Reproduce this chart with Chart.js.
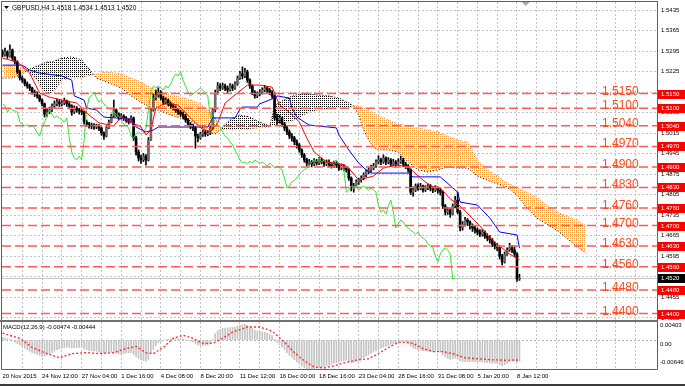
<!DOCTYPE html>
<html>
<head>
<meta charset="utf-8">
<title>GBPUSD H4</title>
<script src="https://cdn.jsdelivr.net/npm/chart.js@4.4.1/dist/chart.umd.min.js"></script>
<style>
  html, body { margin: 0; padding: 0; background: #fff; }
  #wrap { position: relative; width: 685px; height: 386px; overflow: hidden; background: #fff; }
  canvas { position: absolute; left: 0; }
  #main { top: 0; }
  #macd { top: 320px; }
  #tabs { position: absolute; left: 0; top: 384px; width: 685px; height: 2px; background: #3a3a3a; }
</style>
</head>
<body>
<div id="wrap">
  <canvas id="main" width="685" height="320"></canvas>
  <canvas id="macd" width="685" height="66"></canvas>
  <div id="tabs"></div>
</div>
<script>
// ---- data ----
const symbol = 'GBPUSD,H4';
const firstOpen = 1.5292;

const closes = [
  1.5282,1.5292,1.5278,1.5299,1.5271,1.5258,1.5224,1.5203,1.5196,1.5183,
  1.5176,1.5169,1.5155,1.5149,1.5142,1.5128,1.5115,1.5080,1.5087,1.5094,
  1.5108,1.5115,1.5121,1.5115,1.5118,1.5125,1.5115,1.5108,1.5087,1.5101,
  1.5094,1.5091,1.5087,1.5053,1.5046,1.5040,1.5043,1.5036,1.5040,1.5033,
  1.5016,1.5005,1.5033,1.5053,1.5074,1.5094,1.5080,1.5067,1.5074,1.5067,
  1.5060,1.5053,1.5067,1.4999,1.4951,1.4930,1.4924,1.4937,1.4924,1.4992,
  1.5094,1.5135,1.5145,1.5155,1.5135,1.5121,1.5128,1.5115,1.5108,1.5101,
  1.5094,1.5087,1.5080,1.5074,1.5060,1.5046,1.5040,1.5033,1.5005,1.4999,
  1.5012,1.5019,1.5012,1.5016,1.5033,1.5094,1.5155,1.5176,1.5169,1.5176,
  1.5169,1.5162,1.5176,1.5169,1.5183,1.5203,1.5217,1.5210,1.5224,1.5196,
  1.5176,1.5155,1.5142,1.5149,1.5155,1.5162,1.5169,1.5162,1.5155,1.5142,
  1.5067,1.5060,1.5067,1.5046,1.5033,1.5019,1.5005,1.4999,1.4985,1.4975,
  1.4958,1.4941,1.4924,1.4913,1.4917,1.4910,1.4920,1.4913,1.4924,1.4917,
  1.4910,1.4917,1.4910,1.4903,1.4913,1.4907,1.4896,1.4903,1.4896,1.4890,
  1.4862,1.4828,1.4835,1.4849,1.4855,1.4862,1.4873,1.4883,1.4890,1.4896,
  1.4903,1.4917,1.4924,1.4917,1.4930,1.4917,1.4924,1.4910,1.4917,1.4910,
  1.4917,1.4924,1.4910,1.4903,1.4890,1.4814,1.4821,1.4835,1.4828,1.4835,
  1.4821,1.4828,1.4835,1.4828,1.4821,1.4828,1.4821,1.4814,1.4767,1.4746,
  1.4753,1.4739,1.4767,1.4787,1.4746,1.4692,1.4705,1.4719,1.4712,1.4699,
  1.4692,1.4685,1.4678,1.4671,1.4678,1.4664,1.4658,1.4651,1.4637,1.4630,
  1.4624,1.4596,1.4576,1.4603,1.4617,1.4624,1.4617,1.4603,1.4518,1.4520
];
const highs = [
  1.5299,1.5305,1.5296,1.5316,1.5302,1.5276,1.5262,1.5230,1.5210,1.5200,
  1.5190,1.5182,1.5172,1.5162,1.5156,1.5146,1.5132,1.5118,1.5098,1.5104,
  1.5115,1.5125,1.5132,1.5128,1.5126,1.5135,1.5128,1.5120,1.5112,1.5108,
  1.5106,1.5100,1.5098,1.5090,1.5060,1.5052,1.5050,1.5048,1.5046,1.5044,
  1.5036,1.5020,1.5038,1.5060,1.5080,1.5128,1.5098,1.5084,1.5082,1.5078,
  1.5072,1.5064,1.5074,1.5070,1.5004,1.4958,1.4940,1.4946,1.4942,1.5000,
  1.5100,1.5150,1.5162,1.5170,1.5160,1.5142,1.5136,1.5132,1.5122,1.5115,
  1.5108,1.5100,1.5094,1.5088,1.5080,1.5066,1.5052,1.5046,1.5038,1.5012,
  1.5018,1.5026,1.5024,1.5022,1.5040,1.5100,1.5162,1.5188,1.5184,1.5186,
  1.5182,1.5176,1.5184,1.5182,1.5190,1.5210,1.5226,1.5241,1.5236,1.5230,
  1.5200,1.5180,1.5160,1.5156,1.5164,1.5170,1.5178,1.5174,1.5168,1.5160,
  1.5146,1.5080,1.5076,1.5070,1.5052,1.5040,1.5026,1.5014,1.5004,1.4992,
  1.4980,1.4962,1.4946,1.4930,1.4926,1.4922,1.4928,1.4926,1.4932,1.4930,
  1.4922,1.4924,1.4924,1.4916,1.4920,1.4918,1.4912,1.4910,1.4908,1.4902,
  1.4894,1.4866,1.4844,1.4856,1.4862,1.4870,1.4880,1.4890,1.4898,1.4906,
  1.4912,1.4924,1.4938,1.4930,1.4941,1.4934,1.4932,1.4928,1.4926,1.4922,
  1.4928,1.4937,1.4930,1.4916,1.4908,1.4894,1.4832,1.4842,1.4842,1.4844,
  1.4838,1.4836,1.4842,1.4840,1.4834,1.4836,1.4832,1.4828,1.4818,1.4772,
  1.4762,1.4758,1.4774,1.4800,1.4814,1.4752,1.4714,1.4728,1.4724,1.4716,
  1.4706,1.4698,1.4692,1.4686,1.4686,1.4682,1.4672,1.4666,1.4656,1.4644,
  1.4638,1.4628,1.4602,1.4610,1.4624,1.4640,1.4632,1.4628,1.4608,1.4534
];
const lows = [
  1.5275,1.5278,1.5270,1.5274,1.5262,1.5250,1.5218,1.5196,1.5188,1.5176,
  1.5168,1.5160,1.5148,1.5140,1.5134,1.5122,1.5108,1.5070,1.5072,1.5082,
  1.5088,1.5102,1.5108,1.5106,1.5108,1.5112,1.5106,1.5098,1.5076,1.5082,
  1.5086,1.5080,1.5078,1.5046,1.5038,1.5032,1.5030,1.5028,1.5030,1.5024,
  1.5008,1.4994,1.5002,1.5030,1.5050,1.5070,1.5072,1.5060,1.5062,1.5058,
  1.5052,1.5046,1.5050,1.4990,1.4940,1.4920,1.4912,1.4918,1.4906,1.4920,
  1.4990,1.5090,1.5128,1.5138,1.5128,1.5112,1.5114,1.5108,1.5100,1.5094,
  1.5086,1.5078,1.5072,1.5064,1.5052,1.5040,1.5030,1.5024,1.4964,1.4985,
  1.4994,1.5004,1.5004,1.5006,1.5010,1.5028,1.5088,1.5148,1.5160,1.5164,
  1.5160,1.5154,1.5158,1.5160,1.5164,1.5178,1.5198,1.5200,1.5204,1.5188,
  1.5168,1.5146,1.5134,1.5136,1.5142,1.5148,1.5156,1.5154,1.5146,1.5134,
  1.5060,1.5046,1.5050,1.5038,1.5024,1.5010,1.4996,1.4988,1.4976,1.4964,
  1.4950,1.4932,1.4916,1.4904,1.4906,1.4900,1.4904,1.4906,1.4908,1.4910,
  1.4902,1.4904,1.4900,1.4896,1.4898,1.4898,1.4888,1.4890,1.4886,1.4882,
  1.4854,1.4818,1.4814,1.4830,1.4840,1.4848,1.4856,1.4866,1.4876,1.4882,
  1.4890,1.4898,1.4910,1.4908,1.4912,1.4908,1.4910,1.4902,1.4904,1.4900,
  1.4906,1.4912,1.4902,1.4894,1.4882,1.4806,1.4800,1.4816,1.4820,1.4822,
  1.4814,1.4816,1.4822,1.4818,1.4812,1.4816,1.4810,1.4804,1.4758,1.4736,
  1.4738,1.4728,1.4736,1.4760,1.4740,1.4682,1.4684,1.4698,1.4700,1.4688,
  1.4680,1.4674,1.4668,1.4662,1.4664,1.4656,1.4648,1.4640,1.4628,1.4620,
  1.4614,1.4586,1.4566,1.4572,1.4598,1.4612,1.4608,1.4594,1.4510,1.4513
];

// one date label every 16 bars
const dateLabels = ['20 Nov 2015','24 Nov 12:00','27 Nov 04:00','1 Dec 16:00','4 Dec 08:00',
  '8 Dec 20:00','11 Dec 12:00','16 Dec 00:00','18 Dec 16:00','23 Dec 04:00',
  '28 Dec 16:00','31 Dec 08:00','5 Jan 20:00','8 Jan 12:00'];
const priceTicks = [1.5435,1.5365,1.5295,1.5225,1.5155,1.5085,1.5015,1.4945,
  1.4875,1.4805,1.4735,1.4665,1.4595,1.4525,1.4455,1.4385];
const levels = [1.5150,1.5100,1.5040,1.4970,1.4900,1.4830,1.4760,1.4700,1.4630,1.4560,1.4480,1.4400];

// Ichimoku lines (bar index, price)
const tenkanBars = [0,6,11,15,19,24,30,34,39,45,48,52,56,58,60,62,66,71,76,80,84,87,90,95,99,
  104,109,112,116,120,123,126,131,138,140,144,150,154,159,164,169,173,177,181,185,189,193,197,201,205,209];
const tenkan = [1.5271,1.5258,1.5220,1.5152,1.5138,1.5128,1.5118,1.5084,1.5050,1.5040,
  1.5070,1.5053,1.5036,1.5009,1.5026,1.5101,1.5118,1.5111,1.5067,1.5033,
  1.5019,1.5050,1.5118,1.5152,1.5179,1.5179,1.5172,1.5111,1.5087,1.5053,
  1.4999,1.4951,1.4917,1.4907,1.4896,1.4855,1.4869,1.4896,1.4907,1.4900,
  1.4862,1.4835,1.4828,1.4791,1.4767,1.4733,1.4699,1.4658,1.4630,1.4603,1.4583];
const kijunBars = [0,8,11,15,24,28,29,33,34,38,41,52,54,58,61,63,83,85,94,96,97,103,104,110,111,
  116,117,119,122,124,135,136,140,144,147,149,164,166,177,184,185,192,197,201,208,209];
const kijun = [1.5247,1.5247,1.5230,1.5220,1.5210,1.5196,1.5142,1.5128,1.5101,1.5094,
  1.5070,1.5063,1.5036,1.5019,1.5026,1.5036,1.5036,1.5067,1.5067,1.5097,
  1.5104,1.5104,1.5115,1.5135,1.5142,1.5135,1.5101,1.5070,1.5053,1.5043,
  1.5033,1.5009,1.4958,1.4913,1.4890,1.4879,1.4879,1.4866,1.4866,1.4814,
  1.4780,1.4770,1.4726,1.4678,1.4668,1.4624];
const spanBars = [0,4,8,10,14,16,18,20,22,24,28,32,34,36,38,42,48,52,56,60,64,68,72,76,80,
  84,86,88,90,92,94,96,100,104,108,110,112,116,120,124,128,132,136,140,142,144,146,148,150,152,
  156,160,164,168,172,176,180,184,188,192,196,200,204,208,212,216,220,224,228,232,236];
const spanA = [1.5203,1.5203,1.5217,1.5230,1.5244,1.5251,1.5258,1.5258,1.5265,1.5271,
  1.5275,1.5265,1.5244,1.5224,1.5203,1.5190,1.5169,1.5142,1.5121,1.5101,
  1.5091,1.5077,1.5067,1.5057,1.5040,1.5016,1.5012,1.5026,1.5046,1.5060,
  1.5070,1.5077,1.5070,1.5053,1.5040,1.5108,1.5121,1.5138,1.5149,1.5149,
  1.5145,1.5142,1.5135,1.5118,1.5108,1.5077,1.5026,1.4992,1.4968,1.4958,
  1.4958,1.4951,1.4917,1.4890,1.4883,1.4890,1.4900,1.4896,1.4896,1.4869,
  1.4855,1.4842,1.4831,1.4804,1.4760,1.4726,1.4705,1.4685,1.4658,1.4630,1.4606];
const spanB = [1.5244,1.5244,1.5237,1.5230,1.5196,1.5162,1.5152,1.5152,1.5169,1.5196,
  1.5203,1.5203,1.5210,1.5213,1.5217,1.5224,1.5217,1.5203,1.5190,1.5169,
  1.5159,1.5145,1.5138,1.5128,1.5115,1.5087,1.5053,1.5033,1.5026,1.5026,
  1.5026,1.5029,1.5029,1.5033,1.5036,1.5040,1.5046,1.5053,1.5067,1.5087,
  1.5094,1.5097,1.5101,1.5101,1.5108,1.5108,1.5101,1.5094,1.5084,1.5074,
  1.5060,1.5046,1.5040,1.5033,1.5026,1.5019,1.5005,1.4992,1.4985,1.4924,
  1.4890,1.4869,1.4845,1.4831,1.4814,1.4797,1.4770,1.4746,1.4733,1.4719,1.4699];
const chikouShift = 26;

// MACD(12,26,9)
const macdHist = [
  0.0006,0.0005,0.0003,0.0001,-0.0002,-0.0005,-0.0008,-0.0011,-0.0014,-0.0018,
  -0.0022,-0.0025,-0.0028,-0.0030,-0.0032,-0.0034,-0.0036,-0.0036,-0.0034,-0.0031,
  -0.0028,-0.0025,-0.0022,-0.0020,-0.0018,-0.0017,-0.0016,-0.0016,-0.0018,-0.0017,
  -0.0017,-0.0016,-0.0016,-0.0020,-0.0022,-0.0023,-0.0023,-0.0024,-0.0025,-0.0027,
  -0.0029,-0.0030,-0.0028,-0.0026,-0.0027,-0.0029,-0.0030,-0.0031,-0.0031,-0.0030,
  -0.0029,-0.0028,-0.0028,-0.0032,-0.0037,-0.0041,-0.0044,-0.0046,-0.0047,-0.0043,
  -0.0031,-0.0021,-0.0013,-0.0006,-0.0003,-0.0001,0.0001,0.0002,0.0003,0.0003,
  0.0003,0.0003,0.0003,0.0002,0.0001,-0.0001,-0.0002,-0.0004,-0.0008,-0.0011,
  -0.0012,-0.0012,-0.0012,-0.0011,-0.0008,0.0002,0.0014,0.0021,0.0024,0.0026,
  0.0027,0.0027,0.0028,0.0028,0.0029,0.0031,0.0033,0.0034,0.0035,0.0033,
  0.0030,0.0026,0.0022,0.0020,0.0019,0.0018,0.0017,0.0015,0.0013,0.0010,
  0.0002,-0.0005,-0.0010,-0.0016,-0.0022,-0.0028,-0.0034,-0.0039,-0.0044,-0.0049,
  -0.0054,-0.0058,-0.0062,-0.0064,-0.0064,-0.0065,-0.0064,-0.0063,-0.0062,-0.0061,
  -0.0060,-0.0058,-0.0056,-0.0054,-0.0052,-0.0050,-0.0049,-0.0047,-0.0046,-0.0045,
  -0.0047,-0.0050,-0.0050,-0.0047,-0.0045,-0.0042,-0.0039,-0.0036,-0.0033,-0.0030,
  -0.0027,-0.0024,-0.0021,-0.0018,-0.0016,-0.0014,-0.0012,-0.0010,-0.0008,-0.0007,
  -0.0005,-0.0003,-0.0003,-0.0004,-0.0006,-0.0014,-0.0018,-0.0020,-0.0022,-0.0023,
  -0.0024,-0.0024,-0.0025,-0.0025,-0.0026,-0.0026,-0.0026,-0.0027,-0.0033,-0.0038,
  -0.0041,-0.0043,-0.0042,-0.0040,-0.0041,-0.0046,-0.0048,-0.0048,-0.0048,-0.0048,
  -0.0048,-0.0048,-0.0049,-0.0049,-0.0049,-0.0050,-0.0050,-0.0051,-0.0052,-0.0052,
  -0.0052,-0.0055,-0.0058,-0.0055,-0.0052,-0.0049,-0.0047,-0.0046,-0.0049,-0.00474
];
const signalBars = [0,7,12,18,23,28,34,39,45,50,54,58,61,65,69,73,77,81,85,89,93,99,104,108,110,
  114,118,122,126,130,134,138,144,148,152,156,160,163,166,170,174,178,182,187,192,198,203,209];
const signal = [0.00153,0.00039,-0.00166,-0.00303,-0.00395,-0.00303,-0.00281,-0.00303,-0.00281,-0.00189,
  -0.00144,-0.00281,-0.00303,-0.00166,0.00039,0.00107,0.00039,-0.00075,-0.00075,0.00039,
  0.00176,0.00290,0.00290,0.00221,0.00153,-0.00052,-0.00281,-0.00463,-0.00600,-0.00623,
  -0.00577,-0.00509,-0.00440,-0.00417,-0.00303,-0.00166,-0.00052,-0.00052,-0.00075,-0.00189,
  -0.00258,-0.00258,-0.00303,-0.00395,-0.00417,-0.00440,-0.00450,-0.00444];
const macdTop = 0.00403, macdBottom = -0.00646;

// ---- setup ----
const FONT = '"Liberation Sans", Arial, sans-serif';
Chart.defaults.font.family = FONT;
Chart.defaults.color = '#000';

const last = closes.length - 1;
const opens = closes.map((c, i) => (i === 0 ? firstOpen : closes[i - 1]));
const pts = (xs, ys) => xs.map((x, k) => ({ x: x, y: ys[k] }));
const X_MIN = -0.2, X_MAX = 264.6;
const gridBars = [];
for (let b = 8; b <= 256; b += 8) gridBars.push(b);

const mainCanvas = document.getElementById('main');
const mctx = mainCanvas.getContext('2d');

function dots(color, w, h) {
  const c = document.createElement('canvas');
  c.width = w; c.height = h;
  const g = c.getContext('2d');
  g.fillStyle = color;
  g.fillRect(0, 0, 1, 1);
  return mctx.createPattern(c, 'repeat');
}
const orangeDots = dots('#f39a3c', 2, 2);
const blackDots = dots('#000000', 2, 2);

const mainDeco = {
  id: 'mainDeco',
  beforeDatasetsDraw(chart) {
    const { ctx, chartArea: a, scales: { y } } = chart;
    const py = Math.round(y.getPixelForValue(closes[last])) + 0.5;
    ctx.save();
    ctx.strokeStyle = '#c8c8c8';
    ctx.lineWidth = 1;
    ctx.beginPath(); ctx.moveTo(a.left, py); ctx.lineTo(a.right, py); ctx.stroke();
    ctx.restore();
  },
  afterDatasetsDraw(chart) {
    const { ctx, chartArea: a, scales: { y } } = chart;
    ctx.save();
    levels.forEach(v => {
      const py = y.getPixelForValue(v);
      ctx.strokeStyle = '#ff5a5a';
      ctx.lineWidth = 1.5;
      ctx.setLineDash([9, 4]);
      ctx.beginPath(); ctx.moveTo(a.left, py); ctx.lineTo(a.right, py); ctx.stroke();
      ctx.setLineDash([]);
      ctx.font = '12px ' + FONT;
      ctx.fillStyle = '#ff4a1a';
      ctx.textAlign = 'left';
      ctx.textBaseline = 'alphabetic';
      ctx.fillText(v.toFixed(4), a.right - 55, py + 1);
    });
    ctx.restore();
  },
  afterDraw(chart) {
    const { ctx, chartArea: a, scales: { x, y } } = chart;
    ctx.save();
    // window frame
    ctx.strokeStyle = '#606060';
    ctx.lineWidth = 1;
    ctx.strokeRect(a.left - 0.5, a.top - 0.5, a.right - a.left + 1, a.bottom - a.top + 1);
    // level tags on the price scale
    ctx.font = '6px ' + FONT;
    ctx.textAlign = 'left';
    ctx.textBaseline = 'middle';
    levels.forEach(v => {
      const py = Math.round(y.getPixelForValue(v));
      ctx.fillStyle = '#ff0000';
      ctx.fillRect(a.right + 1, py - 4, 27, 9);
      ctx.fillStyle = '#ffffff';
      ctx.fillText(v.toFixed(4), a.right + 4, py + 0.5);
    });
    const cp = Math.round(y.getPixelForValue(closes[last]));
    ctx.fillStyle = '#000000';
    ctx.fillRect(a.right + 1, cp - 4, 27, 9);
    ctx.fillStyle = '#ffffff';
    ctx.fillText(closes[last].toFixed(4), a.right + 4, cp + 0.5);
    // title
    ctx.fillStyle = '#000';
    ctx.beginPath();
    ctx.moveTo(a.left + 2, a.top + 4); ctx.lineTo(a.left + 7, a.top + 4); ctx.lineTo(a.left + 4.5, a.top + 7);
    ctx.closePath(); ctx.fill();
    ctx.font = '6.5px ' + FONT;
    ctx.fillText(symbol + ' ' + opens[last].toFixed(4) + ' ' + highs[last].toFixed(4) + ' ' +
      lows[last].toFixed(4) + ' ' + closes[last].toFixed(4), a.left + 10, a.top + 6);
    // chart shift marker
    const sx = x.getPixelForValue(closes.length + 1.5);
    ctx.fillStyle = '#a8a8a8';
    ctx.beginPath();
    ctx.moveTo(sx - 4, a.top); ctx.lineTo(sx + 4, a.top); ctx.lineTo(sx, a.top + 4);
    ctx.closePath(); ctx.fill();
    ctx.restore();
  }
};

new Chart(mctx, {
  type: 'bar',
  data: {
    datasets: [
      { type: 'line', label: 'Senkou A', data: pts(spanBars, spanA), borderColor: '#000000', borderWidth: 1,
        borderDash: [1, 2], pointRadius: 0, fill: { target: '+1', above: blackDots, below: orangeDots }, order: 10 },
      { type: 'line', label: 'Senkou B', data: pts(spanBars, spanB), borderColor: '#f08c30', borderWidth: 1,
        borderDash: [1, 2], pointRadius: 0, fill: false, order: 9 },
      { type: 'bar', label: 'wick', data: closes.map((c, i) => ({ x: i, y: [lows[i], highs[i]] })),
        backgroundColor: '#000000', barThickness: 1, grouped: false, order: 6 },
      { type: 'bar', label: 'body', data: closes.map((c, i) => ({ x: i, y: [opens[i], c] })),
        backgroundColor: closes.map((c, i) => (c >= opens[i] ? '#6a6a6a' : '#000000')),
        barThickness: 2, grouped: false, minBarLength: 1, order: 5 },
      { type: 'line', label: 'Chikou', data: closes.slice(chikouShift).map((c, k) => ({ x: k, y: c })),
        borderColor: '#33e633', borderWidth: 1, pointRadius: 0, fill: false, order: 3 },
      { type: 'line', label: 'Kijun', data: pts(kijunBars, kijun), borderColor: '#0000ff', borderWidth: 1,
        pointRadius: 0, fill: false, order: 2 },
      { type: 'line', label: 'Tenkan', data: pts(tenkanBars, tenkan), borderColor: '#ff0000', borderWidth: 1,
        pointRadius: 0, fill: false, order: 1 }
    ]
  },
  options: {
    responsive: false,
    animation: false,
    events: [],
    layout: { padding: { left: 2, top: 2, right: 0, bottom: 0 } },
    plugins: { legend: { display: false }, tooltip: { enabled: false } },
    scales: {
      x: {
        type: 'linear', min: X_MIN, max: X_MAX, offset: false,
        afterBuildTicks: s => { s.ticks = gridBars.map(v => ({ value: v })); },
        afterFit: s => { s.height = 0; s.paddingLeft = 0; s.paddingRight = 0; },
        ticks: { display: false },
        grid: { color: '#c4c4c4', drawTicks: false, offset: false },
        border: { display: false, dash: [2, 2] }
      },
      y: {
        type: 'linear', position: 'right',
        min: 1.5435 - 310 / 2933, max: 1.5435 + 8 / 2933,
        afterBuildTicks: s => { s.ticks = priceTicks.map(v => ({ value: v })); },
        afterFit: s => { s.width = 28; s.paddingTop = 0; s.paddingBottom = 0; },
        ticks: { font: { size: 6 }, padding: 4, callback: v => Number(v).toFixed(4) },
        grid: { color: '#c4c4c4', drawTicks: false },
        border: { display: false, dash: [2, 2] }
      }
    }
  },
  plugins: [mainDeco]
});

// ---- MACD window ----
const macdDeco = {
  id: 'macdDeco',
  afterDraw(chart) {
    const { ctx, chartArea: a, scales: { y } } = chart;
    ctx.save();
    ctx.fillStyle = '#707070';
    ctx.fillRect(0, 0, a.right + 1, 2);
    ctx.strokeStyle = '#606060';
    ctx.lineWidth = 1;
    ctx.beginPath();
    ctx.moveTo(a.left - 0.5, a.top); ctx.lineTo(a.left - 0.5, a.bottom + 0.5);
    ctx.lineTo(a.right + 0.5, a.bottom + 0.5); ctx.lineTo(a.right + 0.5, a.top);
    ctx.stroke();
    ctx.font = '6px ' + FONT;
    ctx.fillStyle = '#000';
    ctx.textAlign = 'left';
    ctx.textBaseline = 'middle';
    ctx.fillText('MACD(12,26,9) ' + macdHist[last].toFixed(5) + ' ' + signal[signal.length - 1].toFixed(5),
      a.left + 1, a.top + 5);
    ctx.fillText(macdTop.toFixed(5), a.right + 3, a.top + 3);
    ctx.fillText('0.00', a.right + 3, y.getPixelForValue(0) + 4);
    ctx.fillText(macdBottom.toFixed(5), a.right + 3, a.bottom - 7);
    ctx.restore();
  }
};

new Chart(document.getElementById('macd'), {
  type: 'bar',
  data: {
    datasets: [
      { type: 'line', label: 'Signal', data: pts(signalBars, signal), borderColor: '#ff3030', borderWidth: 1.4,
        borderDash: [2, 2], pointRadius: 0, fill: false, order: 1 },
      { type: 'bar', label: 'MACD', data: macdHist.map((v, i) => ({ x: i, y: v })),
        backgroundColor: '#c4c4c4', barThickness: 1, grouped: false, order: 2 }
    ]
  },
  options: {
    responsive: false,
    animation: false,
    events: [],
    layout: { padding: { left: 2, top: 2, right: 0, bottom: 0 } },
    plugins: { legend: { display: false }, tooltip: { enabled: false } },
    scales: {
      x: {
        type: 'linear', min: X_MIN, max: X_MAX, offset: false,
        afterBuildTicks: s => { s.ticks = [0].concat(gridBars).map(v => ({ value: v })); },
        afterFit: s => { s.height = 17; s.paddingLeft = 0; s.paddingRight = 0; },
        ticks: {
          align: 'start', maxRotation: 0, minRotation: 0, autoSkip: false, padding: 4,
          font: { size: 6 },
          callback: v => (v % 16 === 0 ? dateLabels[v / 16] || '' : '')
        },
        grid: { color: c => (c.tick && c.tick.value === 0 ? 'rgba(0,0,0,0)' : '#c4c4c4'), drawTicks: false, offset: false },
        border: { display: false, dash: [2, 2] }
      },
      y: {
        type: 'linear', position: 'right', min: macdBottom, max: macdTop,
        afterBuildTicks: s => { s.ticks = [{ value: 0 }]; },
        afterFit: s => { s.width = 28; s.paddingTop = 0; s.paddingBottom = 0; },
        ticks: { display: false },
        grid: { color: '#b4b4b4', drawTicks: false },
        border: { display: false, dash: [2, 2] }
      }
    }
  },
  plugins: [macdDeco]
});
</script>
</body>
</html>
